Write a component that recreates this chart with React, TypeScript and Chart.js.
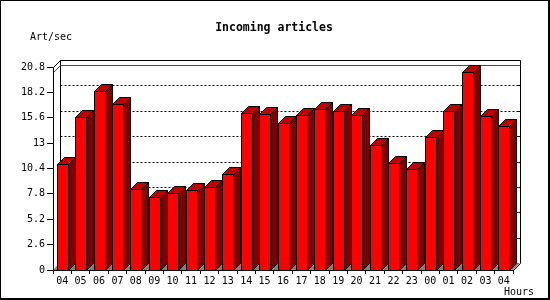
import React, { useEffect, useRef } from 'react';
import { Chart, registerables } from 'chart.js';

Chart.register(...registerables);

const hours = ['04', '05', '06', '07', '08', '09', '10', '11', '12', '13', '14', '15', '16', '17', '18', '19', '20', '21', '22', '23', '00', '01', '02', '03', '04'];
const artPerSec = [10.9, 15.7, 18.3, 17.0, 8.35, 7.45, 7.85, 8.15, 8.55, 9.8, 16.1, 16.0, 15.1, 15.9, 16.5, 16.3, 15.9, 12.85, 11.0, 10.4, 13.65, 16.3, 20.3, 15.8, 14.8];
const yTickLabels = ['0', '2.6', '5.2', '7.8', '10.4', '13', '15.6', '18.2', '20.8'];
const yStep = 2.6;
const yMax = 20.8;

const titleText = 'Incoming articles';
const yAxisTitle = 'Art/sec';
const xAxisTitle = 'Hours';

const DX = 7;
const DY = 7;
const MONO = '"DejaVu Sans Mono", "Liberation Mono", monospace';

const px = (v: number) => Math.round(v) + 0.5;

const bars3d = {
  id: 'bars3d',
  beforeDraw(chart: any) {
    const ctx = chart.ctx as CanvasRenderingContext2D;
    const { left, right, top, bottom } = chart.chartArea;
    const yScale = chart.scales.y;
    ctx.save();
    ctx.fillStyle = '#ffffff';
    ctx.fillRect(0, 0, chart.width, chart.height);
    // outer frame
    ctx.fillStyle = '#000000';
    ctx.fillRect(0, 0, chart.width, 1);
    ctx.fillRect(0, 0, 1, chart.height);
    ctx.fillRect(chart.width - 2, 0, 2, chart.height);
    ctx.fillRect(0, chart.height - 2, chart.width, 2);

    const bl = px(left + DX);
    const br = px(right + DX);
    const bt = px(top - DY);
    const bb = px(bottom - DY);

    // floor
    ctx.fillStyle = '#808080';
    ctx.beginPath();
    ctx.moveTo(left, bottom);
    ctx.lineTo(right, bottom);
    ctx.lineTo(right + DX, bottom - DY);
    ctx.lineTo(left + DX, bottom - DY);
    ctx.closePath();
    ctx.fill();

    // dotted grid on back wall
    ctx.strokeStyle = '#000000';
    ctx.lineWidth = 1;
    ctx.setLineDash([2, 2]);
    for (let i = 1; i < yTickLabels.length - 1; i++) {
      const y = px(yScale.getPixelForValue(i * yStep) - DY);
      ctx.beginPath();
      ctx.moveTo(bl, y);
      ctx.lineTo(br, y);
      ctx.stroke();
    }
    ctx.setLineDash([]);
    // right ticks
    for (let i = 1; i < yTickLabels.length - 1; i++) {
      const y = px(yScale.getPixelForValue(i * yStep) - DY);
      ctx.beginPath();
      ctx.moveTo(br - 3, y);
      ctx.lineTo(br, y);
      ctx.stroke();
    }

    // back wall frame
    ctx.beginPath();
    ctx.moveTo(bl, bb);
    ctx.lineTo(bl, bt);
    ctx.lineTo(br, bt);
    ctx.lineTo(br, bb);
    ctx.stroke();
    // diagonals
    ctx.beginPath();
    ctx.moveTo(px(left), px(top));
    ctx.lineTo(bl, bt);
    ctx.moveTo(px(right), px(bottom));
    ctx.lineTo(br, bb);
    ctx.stroke();

    // max line (red)
    const maxVal = Math.max(...artPerSec);
    const ym = yScale.getPixelForValue(maxVal);
    ctx.strokeStyle = '#ff0000';
    ctx.beginPath();
    ctx.moveTo(px(left), px(ym));
    ctx.lineTo(bl, px(ym - DY));
    ctx.lineTo(br, px(ym - DY));
    ctx.stroke();
    ctx.restore();
  },
  afterDatasetsDraw(chart: any) {
    const ctx = chart.ctx as CanvasRenderingContext2D;
    const meta = chart.getDatasetMeta(0);
    ctx.save();
    ctx.lineWidth = 1;
    ctx.strokeStyle = '#000000';
    meta.data.forEach((el: any) => {
      const { x, y, base, width } = el.getProps(['x', 'y', 'base', 'width'], true);
      const L = px(x - width / 2);
      const R = px(x + width / 2);
      const T = px(y);
      const B = px(base);
      // front
      ctx.fillStyle = '#ff0000';
      ctx.fillRect(L, T, R - L, B - T);
      ctx.strokeRect(L, T, R - L, B - T);
      // top
      ctx.fillStyle = '#c00000';
      ctx.beginPath();
      ctx.moveTo(L, T);
      ctx.lineTo(L + DX, T - DY);
      ctx.lineTo(R + DX, T - DY);
      ctx.lineTo(R, T);
      ctx.closePath();
      ctx.fill();
      ctx.stroke();
      // side
      ctx.fillStyle = '#800000';
      ctx.beginPath();
      ctx.moveTo(R, T);
      ctx.lineTo(R + DX, T - DY);
      ctx.lineTo(R + DX, B - DY);
      ctx.lineTo(R, B);
      ctx.closePath();
      ctx.fill();
      ctx.stroke();
    });
    // front axes
    const { left, right, top, bottom } = chart.chartArea;
    ctx.beginPath();
    ctx.moveTo(px(left), px(top));
    ctx.lineTo(px(left), px(bottom));
    ctx.lineTo(px(right), px(bottom));
    ctx.stroke();
    ctx.restore();
  },
  afterDraw(chart: any) {
    const ctx = chart.ctx as CanvasRenderingContext2D;
    ctx.save();
    ctx.fillStyle = '#000000';
    ctx.textBaseline = 'middle';
    ctx.font = 'bold 11.5px ' + MONO;
    ctx.textAlign = 'center';
    ctx.fillText(titleText, 274, 28);
    ctx.font = '10px ' + MONO;
    ctx.textAlign = 'left';
    ctx.fillText(yAxisTitle, 30, 37);
    ctx.fillText(xAxisTitle, 504, 292);
    ctx.restore();
  },
};

export default function App() {
  const ref = useRef<HTMLCanvasElement | null>(null);
  useEffect(() => {
    document.body.style.margin = '0';
    const canvas = ref.current;
    if (!canvas) return;
    const chart = new Chart(canvas, {
      type: 'bar',
      data: {
        labels: hours,
        datasets: [
          {
            data: artPerSec,
            backgroundColor: 'rgba(0,0,0,0)',
            borderWidth: 0,
            barThickness: 11,
          },
        ],
      },
      options: {
        responsive: false,
        animation: false,
        events: [],
        layout: { padding: { left: 0, top: 67, right: 37, bottom: 0 } },
        plugins: {
          legend: { display: false },
          title: { display: false },
          tooltip: { enabled: false },
        },
        scales: {
          x: {
            offset: true,
            grid: {
              offset: true,
              drawOnChartArea: false,
              drawTicks: true,
              tickLength: 4,
              color: '#000000',
            },
            border: { display: false },
            ticks: {
              color: '#000000',
              font: { family: MONO, size: 10 },
              padding: 1,
              maxRotation: 0,
              autoSkip: false,
            },
            afterFit: (s: any) => {
              s.height = 30;
            },
          },
          y: {
            min: 0,
            max: yMax,
            grid: {
              drawOnChartArea: false,
              drawTicks: true,
              tickLength: 6,
              color: '#000000',
            },
            border: { display: false },
            ticks: {
              stepSize: yStep,
              color: '#000000',
              font: { family: MONO, size: 10 },
              padding: 2,
              callback: (_v: any, i: number) => yTickLabels[i],
            },
            afterFit: (s: any) => {
              s.width = 53;
            },
          },
        },
      },
      plugins: [bars3d],
    });
    return () => chart.destroy();
  }, []);
  return (
    <div style={{ width: 550, height: 300 }}>
      <canvas ref={ref} width={550} height={300} />
    </div>
  );
}
